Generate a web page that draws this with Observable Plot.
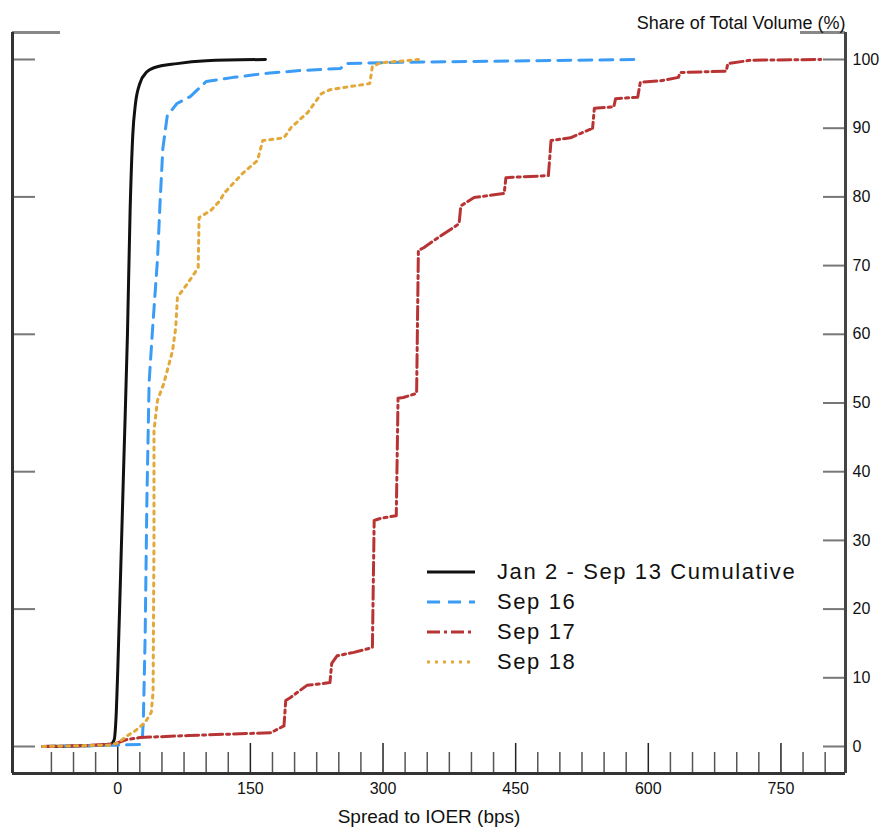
<!DOCTYPE html>
<html><head><meta charset="utf-8">
<script src="https://cdn.jsdelivr.net/npm/d3@7"></script>
<script src="https://cdn.jsdelivr.net/npm/@observablehq/plot@0.6"></script>
<style>
body{margin:0;background:#fff;font-family:"Liberation Sans",Arial,sans-serif;}
#wrap{position:relative;width:887px;height:835px;}
#legend{position:absolute;left:427px;top:557px;}
.row{display:flex;align-items:center;height:30px;}
.row svg{width:48px;height:10px;margin-right:22px;display:block}
.row span{font-size:22px;color:#111;line-height:30px;letter-spacing:1.6px}
</style></head><body><div id="wrap"><div id="legend"></div></div>
<script>
// Series: [spread to IOER (bps), cumulative share of volume (%)]
const cumulative = [[-85,0],[-40,0.1],[-8,0.3],[-4,1],[-2,4],[0,11],[3,24],[7,42],[11,60],[14,78],[17,89],[20,93.5],[25,96.5],[33,98.2],[41,98.8],[67,99.4],[100,99.8],[167,100]];
const sep16 = [[-85,0],[0,0.2],[25,0.3],[28,1.5],[29,4],[31,16],[33,36],[35.5,53],[39,60],[45,71],[48,79.5],[51,87],[56,91.8],[67,93.6],[82,94.6],[100,96.8],[131,97.4],[169,98],[207,98.4],[252,98.7],[258,99.4],[320,99.6],[591,100]];
const sep17 = [[-85,0],[-40,0.1],[-3,0.4],[10,1.0],[25,1.3],[80,1.6],[173,2.0],[188,3.0],[190,6.7],[195,7.1],[214,8.9],[240,9.3],[242,12.1],[248,13.2],[267,13.7],[288,14.4],[290,32.9],[297,33.2],[315,33.6],[317,50.7],[323,50.8],[338,51.4],[340,72.2],[346,72.6],[357,73.6],[386,76.1],[388,78.7],[403,79.9],[437,80.5],[439,82.8],[487,83.1],[490,88.2],[512,88.6],[537,90.0],[539,92.9],[561,93.1],[563,94.3],[588,94.5],[591,96.7],[614,96.9],[634,97.4],[636,98.1],[688,98.3],[690,99.4],[716,99.9],[795,100]];
const sep18 = [[-85,0],[-10,0.2],[0,0.5],[10,1.5],[20,2.3],[31,3.5],[38,5],[40,8],[41,30],[41,46],[45,50.4],[52,52.8],[62,57.6],[65.6,61],[67.5,65.4],[79,67.4],[91,69.7],[92,77],[105,78],[116,79.5],[120,80.5],[141,83.4],[158,85.3],[164,88.2],[188,88.6],[196,90.1],[215,92.3],[230,95],[240,95.6],[285,96.5],[288,99],[297,99.5],[340,100]];

const seriesNames = ["Jan 2 - Sep 13 Cumulative","Sep 16","Sep 17","Sep 18"];
const seriesColors = ["#111111","#3a9cf5","#b83434","#e2a83a"];
const seriesDash = [null,"13,8","13,4,3,4","3,5"];

const xLabels = [0,150,300,450,600,750];
const xMinorTicks = [-75,-50,-25,25,50,75,100,125,175,200,225,250,275,325,350,375,400,425,475,500,525,550,575,625,650,675,700,725,775,800];
const yLeftTicks = [0,20,40,60,80,100];
const yRightTicks = [0,10,20,30,40,50,60,70,80,90,100];

const W=887,H=835,mL=12,mR=42,mT=32,mB=62;
const fw=W-mL-mR, fh=H-mT-mB;
const xDomain=[-119,823], yDomain=[-3.93,103.93];

const seriesData=[cumulative,sep16,sep17,sep18];
const lineMarks = seriesData.map((d,i)=>Plot.line(d,{x:p=>p[0],y:p=>p[1],stroke:seriesColors[i],strokeWidth:3,strokeDasharray:seriesDash[i]||undefined,curve:i===0?"monotone-x":"linear",strokeLinejoin:"round"}));

const chart = Plot.plot({
  width:W,height:H,marginLeft:mL,marginRight:mR,marginTop:mT,marginBottom:mB,
  x:{domain:xDomain,axis:null},
  y:{domain:yDomain,axis:null},
  style:{fontFamily:"'Liberation Sans', Arial, sans-serif",background:"white",overflow:"visible",color:"#111"},
  marks:[
    Plot.tickX(xMinorTicks,{x:d=>d,insetTop:fh-21,stroke:"#555",strokeWidth:1.5}),
    Plot.tickX(xLabels,{x:d=>d,insetTop:fh-30,stroke:"#222",strokeWidth:1.5}),
    Plot.tickY(yLeftTicks,{y:d=>d,insetRight:fw-23,stroke:"#777",strokeWidth:2}),
    Plot.tickY(yRightTicks,{y:d=>d,insetLeft:fw-22,stroke:"#777",strokeWidth:2}),
    Plot.tickY([yDomain[1]],{y:d=>d,insetRight:fw-48,stroke:"#888",strokeWidth:3}),
    Plot.tickY([yDomain[1]],{y:d=>d,insetLeft:fw-45,stroke:"#888",strokeWidth:3}),
    Plot.ruleX([xDomain[0]],{x:d=>d,stroke:"#333",strokeWidth:3}),
    Plot.ruleX([xDomain[1]],{x:d=>d,stroke:"#444",strokeWidth:3}),
    Plot.ruleY([yDomain[0]],{y:d=>d,stroke:"#333",strokeWidth:3}),
    ...lineMarks,
    Plot.text(xLabels,{x:d=>d,frameAnchor:"bottom",dy:20,fontSize:16,text:d=>String(d)}),
    Plot.text(yRightTicks,{y:d=>d,frameAnchor:"right",dx:7,textAnchor:"start",fontSize:16,text:d=>String(d)}),
    Plot.text(["Share of Total Volume (%)"],{frameAnchor:"top-right",dy:-16,textAnchor:"end",fontSize:18}),
    Plot.text(["Spread to IOER (bps)"],{frameAnchor:"bottom",dy:49,fontSize:19})
  ]
});
const wrap=document.getElementById("wrap");
wrap.insertBefore(chart,wrap.firstChild);

const legend=document.getElementById("legend");
seriesNames.forEach((name,i)=>{
  const row=document.createElement("div");row.className="row";
  row.innerHTML=`<svg viewBox="0 0 48 10"><line x1="0" y1="5" x2="48" y2="5" stroke="${seriesColors[i]}" stroke-width="3" ${seriesDash[i]?`stroke-dasharray="${seriesDash[i]}"`:""}/></svg><span>${name}</span>`;
  legend.appendChild(row);
});
</script></body></html>
